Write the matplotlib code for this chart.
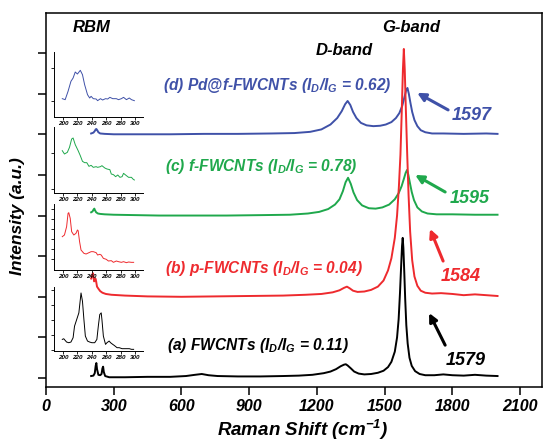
import numpy as np
import matplotlib
matplotlib.use("Agg")
import matplotlib.pyplot as plt

plt.rcParams['font.family'] = ['Liberation Sans', 'DejaVu Sans']
plt.rcParams['font.weight'] = 'bold'
plt.rcParams['font.style'] = 'italic'

# colours of the four samples
c_a, c_b, c_c, c_d = 'black', '#ee2a2e', '#1fa84c', '#3f51a8'

# main spectra (a.u., already offset)
a_x = [200, 210, 216, 220, 223, 226, 232, 240, 246, 250, 253, 256, 262, 280, 350, 450, 550, 620, 660,
       690, 720, 760, 850, 950, 1050, 1120, 1180, 1230, 1260, 1285, 1305, 1320, 1328, 1336, 1350, 1365,
       1385, 1410, 1440, 1470, 1495, 1515, 1530, 1545, 1555, 1562, 1568, 1573, 1577, 1580, 1583, 1587,
       1591, 1596, 1602, 1610, 1620, 1635, 1655, 1680, 1720, 1760, 1800, 1850, 1900, 1950, 2000]
a_y = [0.05, 0.06, 0.12, 0.30, 0.37, 0.22, 0.08, 0.07, 0.10, 0.24, 0.28, 0.15, 0.05, 0.02, 0.02, 0.03,
       0.03, 0.05, 0.08, 0.10, 0.07, 0.05, 0.04, 0.04, 0.05, 0.06, 0.08, 0.12, 0.16, 0.22, 0.29, 0.33,
       0.34, 0.31, 0.24, 0.16, 0.11, 0.09, 0.10, 0.13, 0.18, 0.27, 0.40, 0.65, 1.0, 1.45, 2.1, 2.75, 3.25,
       3.45, 3.2, 2.6, 1.95, 1.3, 0.85, 0.5, 0.3, 0.17, 0.10, 0.07, 0.07, 0.09, 0.07, 0.06, 0.08, 0.06, 0.05]

b_x = [200, 203, 206, 208, 210, 213, 216, 219, 222, 226, 232, 240, 250, 265, 290, 350, 450, 600, 750, 900,
       1050, 1150, 1220, 1270, 1300, 1320, 1333, 1345, 1360, 1380, 1410, 1440, 1470, 1495, 1515, 1530,
       1545, 1555, 1563, 1570, 1576, 1581, 1585, 1589, 1594, 1600, 1606, 1613, 1622, 1632, 1645, 1660,
       1680, 1710, 1750, 1800, 1850, 1900, 1950, 2000]
b_y = [2.45, 2.5, 2.56, 2.58, 2.5, 2.38, 2.42, 2.45, 2.38, 2.25, 2.2, 2.14, 2.1, 2.07, 2.05, 2.03, 2.01,
       2.0, 2.01, 2.02, 2.03, 2.05, 2.07, 2.11, 2.16, 2.22, 2.25, 2.21, 2.15, 2.12, 2.13, 2.17, 2.25, 2.4,
       2.65, 2.95, 3.45, 4.0, 4.7, 5.5, 6.6, 7.6, 8.1, 7.6, 6.6, 5.5, 4.5, 3.6, 2.9, 2.5, 2.27, 2.15, 2.1,
       2.08, 2.09, 2.07, 2.04, 2.06, 2.04, 2.02]

c_x = [200, 206, 211, 214, 217, 222, 230, 240, 260, 300, 400, 500, 650, 800, 950, 1080, 1160, 1210, 1250,
       1280, 1300, 1315, 1327, 1338, 1350, 1362, 1378, 1400, 1430, 1460, 1490, 1520, 1545, 1562, 1575,
       1585, 1593, 1599, 1605, 1612, 1620, 1630, 1645, 1665, 1690, 1730, 1800, 1900, 2000]
c_y = [4.08, 4.1, 4.15, 4.17, 4.13, 4.08, 4.05, 4.04, 4.03, 4.02, 4.01, 4.0, 4.0, 4.0, 4.01, 4.02, 4.05,
       4.09, 4.16, 4.27, 4.4, 4.6, 4.82, 4.93, 4.78, 4.57, 4.38, 4.25, 4.18, 4.17, 4.2, 4.27, 4.4, 4.55,
       4.72, 4.9, 5.05, 5.12, 5.0, 4.8, 4.58, 4.38, 4.2, 4.1, 4.05, 4.03, 4.03, 4.02, 4.02]

d_x = [200, 210, 216, 220, 223, 227, 232, 240, 260, 300, 400, 550, 700, 850, 1000, 1100, 1170, 1220, 1260,
       1290, 1310, 1325, 1336, 1348, 1360, 1375, 1395, 1420, 1450, 1480, 1505, 1530, 1550, 1565, 1578,
       1588, 1596, 1601, 1607, 1614, 1622, 1632, 1645, 1660, 1680, 1710, 1760, 1850, 1950, 2000]
d_y = [6.02, 6.04, 6.08, 6.12, 6.13, 6.1, 6.05, 6.02, 6.01, 6.0, 6.0, 6.0, 6.01, 6.01, 6.02, 6.03, 6.06,
       6.12, 6.24, 6.4, 6.57, 6.74, 6.82, 6.72, 6.55, 6.4, 6.28, 6.22, 6.2, 6.21, 6.24, 6.3, 6.4, 6.52, 6.7,
       6.92, 7.1, 7.14, 7.0, 6.78, 6.55, 6.35, 6.2, 6.1, 6.05, 6.02, 6.02, 6.01, 6.02, 6.01]

# RBM insets
rbm_d_x = [199, 203, 207, 211, 214, 217, 220, 224, 227, 230, 234, 237, 239, 242, 246, 248, 252, 255, 259,
           262, 265, 269, 274, 277, 281, 284, 288, 292, 295, 299]
rbm_d_y = [55, 52, 77, 107, 117, 135, 129, 140, 127, 97, 67, 57, 62, 55, 54, 49, 55, 51, 55, 54, 59, 55,
           55, 52, 55, 59, 52, 57, 52, 49]
rbm_c_x = [199, 202, 206, 209, 212, 214, 217, 221, 224, 227, 230, 233, 236, 239, 242, 246, 248, 252, 254,
           258, 261, 265, 267, 270, 273, 276, 279, 282, 284, 288, 291, 295, 297, 299]
rbm_c_y = [127, 117, 122, 137, 162, 165, 145, 127, 112, 95, 91, 91, 80, 83, 77, 79, 77, 79, 82, 75, 72,
           70, 57, 55, 49, 54, 47, 49, 59, 52, 47, 47, 42, 39]
rbm_b_x = [199, 202, 205, 207, 208, 210, 212, 215, 218, 220, 221, 223, 225, 229, 232, 236, 239, 242, 246,
           248, 251, 253, 256, 260, 263, 267, 270, 274, 277, 281, 284, 288, 291, 295, 298]
rbm_b_y = [100, 105, 130, 170, 172, 155, 115, 105, 110, 120, 118, 85, 60, 50, 48, 52, 55, 55, 52, 45, 47,
           45, 35, 32, 27, 28, 23, 27, 25, 23, 25, 22, 24, 23, 23]
rbm_a_x = [199, 201, 205, 208, 211, 214, 216, 219, 222, 224, 225, 227, 229, 231, 234, 237, 240, 244, 247,
           249, 251, 253, 254, 256, 259, 261, 264, 266, 269, 271, 275, 278, 282, 285, 289, 292, 295, 298]
rbm_a_y = [35, 37, 27, 25, 27, 40, 75, 95, 115, 155, 175, 150, 95, 45, 30, 27, 25, 25, 35, 75, 110, 115,
           95, 45, 20, 25, 30, 25, 20, 17, 10, 10, 7, 7, 7, 7, 5, 5]

fig = plt.figure(figsize=(5.43, 4.41), dpi=100)
ax = fig.add_axes([46/543, 54/441, 496/543, 374/441])

ax.plot(a_x, a_y, color=c_a, lw=1.4)
ax.plot(d_x, d_y, color=c_d, lw=1.4)
ax.plot(c_x, c_y, color=c_c, lw=1.4)
ax.plot(b_x, b_y, color=c_b, lw=1.4)

ax.set_xlim(0, 2197)
ax.set_ylim(-0.22, 8.985)
ax.set_xticks(range(0, 2101, 300))
ax.set_yticks(range(0, 9))
ax.set_yticklabels([])
ax.tick_params(direction='out', length=5.5, width=1.1, labelsize=11.5, pad=3)
for s in ax.spines.values():
    s.set_linewidth(1.1)

fig.text(18/543, 1 - 216/441, 'Intensity (a.u.)', rotation=90, ha='center', va='center', fontsize=12.5)
fig.text(303/543, 1 - 430/441, r'Raman Shift (cm$\mathregular{^{-1}}$)', ha='center', va='center',
         fontsize=13.5)

ax.text(200, 8.64, 'RBM', ha='center', va='center', fontsize=12)
ax.text(1617, 8.64, 'G-band', ha='center', va='center', fontsize=12)
ax.text(1320, 8.07, 'D-band', ha='center', va='center', fontsize=12)

lab = r'$\mathregular{I_D/I_G}$'
ax.text(519, 7.2, '(d) Pd@f-FWCNTs (' + lab + ' = 0.62)', color=c_d, va='center', fontsize=11.2)
ax.text(528, 5.2, '(c) f-FWCNTs (' + lab + ' = 0.78)', color=c_c, va='center', fontsize=11.2)
ax.text(528, 2.69, '(b) p-FWCNTs (' + lab + ' = 0.04)', color=c_b, va='center', fontsize=11.2)
ax.text(537, 0.79, '(a) FWCNTs (' + lab + ' = 0.11)', color=c_a, va='center', fontsize=11.2)

arrows = [((1644, 7.02), (1781, 6.60), c_d, '1597', (1887, 6.45)),
          ((1635, 5.00), (1768, 4.58), c_c, '1595', (1878, 4.41)),
          ((1701, 3.67), (1759, 2.88), c_b, '1584', (1838, 2.51)),
          ((1697, 1.60), (1768, 0.81), c_a, '1579', (1858, 0.44))]
for head, tail, col, txt, pos in arrows:
    ax.annotate('', xy=head, xytext=tail,
                arrowprops=dict(arrowstyle='-|>', color=col, lw=2.2, mutation_scale=12,
                                shrinkA=0, shrinkB=0))
    ax.text(pos[0], pos[1], txt, color=col, ha='center', va='center', fontsize=13)

insets = [(rbm_d_x, rbm_d_y, c_d, 117, 65, 195, [49, 147]),
          (rbm_c_x, rbm_c_y, c_c, 193, 66, 198, [12, 119]),
          (rbm_b_x, rbm_b_y, c_b, 270, 66, 198, [32, 62, 92, 122, 152, 182]),
          (rbm_a_x, rbm_a_y, c_a, 351, 64, 193, [2, 47, 92, 138, 185])]
for xs, ys, col, bot, h, top, yt in insets:
    ia = fig.add_axes([54/543, 1 - bot/441, 89/543, h/441])
    ia.patch.set_alpha(0)
    ia.plot(xs, ys, color=col, lw=0.7)
    ia.set_xlim(187.5, 311)
    ia.set_ylim(0, top)
    ia.set_xticks(range(200, 301, 20))
    ia.set_yticks(yt)
    ia.set_yticklabels([])
    ia.spines['top'].set_visible(False)
    ia.spines['right'].set_visible(False)
    for s in ia.spines.values():
        s.set_linewidth(0.7)
    ia.tick_params(direction='out', length=2, width=0.6, labelsize=4.5, pad=1)

fig.savefig('out.png', dpi=100)
